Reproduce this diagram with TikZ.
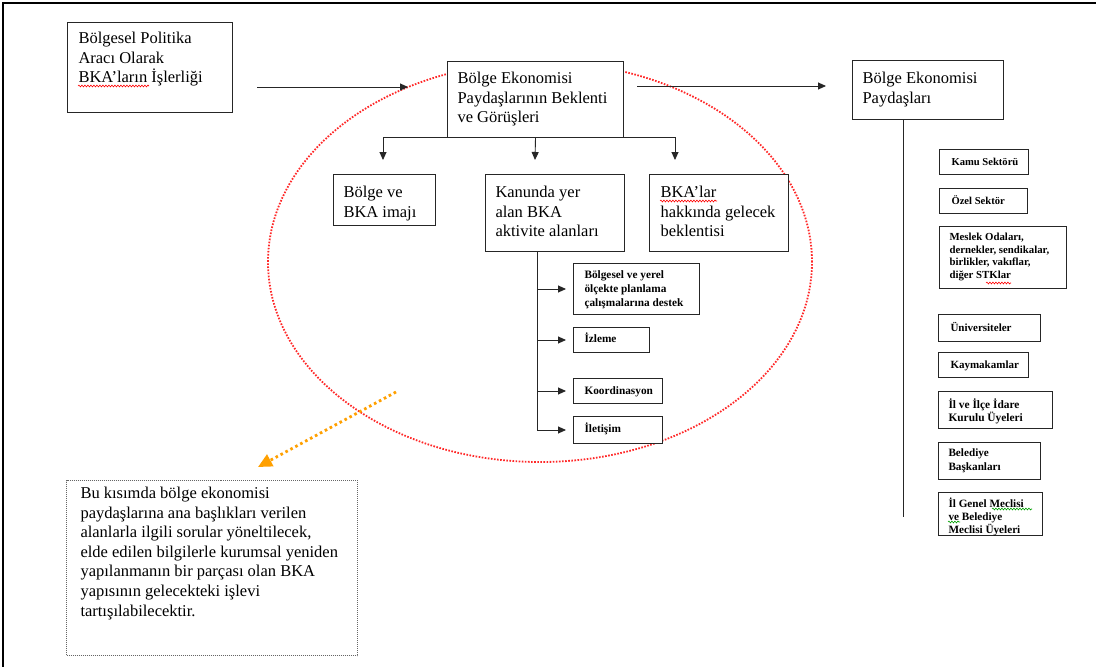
\documentclass[tikz,border=0pt]{standalone}
\usepackage{fontspec}
\setmainfont{Liberation Serif}
\usetikzlibrary{arrows.meta,decorations.pathmorphing}
% #1 width, #2 height, #3 left pad, #4 first baseline, #5 font, #6 text
\newcommand\bxt[6]{\parbox[t][#2pt][t]{#1pt}{#5\raggedright\leftskip=#3pt\relax\rule{0pt}{#4pt}#6}}
\newcommand\bigtxt{\fontsize{16.5}{19.6}\selectfont}
\newcommand\smallb[2]{\fontsize{#1}{#2}\selectfont\bfseries}
\begin{document}
\begin{tikzpicture}[x=1pt,y=-1pt,
  box/.style={draw=black!85, line width=1pt, fill=white, inner sep=0pt, anchor=north west},
  arr/.style={-{Triangle[width=7pt,length=8pt]}, line width=0.9pt, black!85},
  lin/.style={line width=0.9pt, black!85},
  reddots/.style={draw={rgb,255:red,255;green,40;blue,40}, line width=1.8pt, dash pattern=on 1.6pt off 1.5pt},
  orangedots/.style={draw={rgb,255:red,255;green,160;blue,0}, line width=2.8pt, dash pattern=on 2.6pt off 3pt,
     -{Triangle[width=13pt,length=14pt,fill={rgb,255:red,255;green,160;blue,0}]}},
  notebox/.style={draw=black!60, line width=1pt, dash pattern=on 1pt off 1pt, fill=white, inner sep=0pt, anchor=north west},
  wavy/.style={decorate, decoration={snake, amplitude=0.9pt, segment length=3pt}, line width=0.6pt},
  redwavy/.style={wavy, draw=red},
  greenwavy/.style={wavy, draw={rgb,255:red,0;green,160;blue,0}}]
\useasboundingbox (0,0) rectangle (1096,667);
\fill[white] (0,0) rectangle (1096,667);
% frame
\draw[line width=2pt] (3,667) -- (3,3) -- (1096,3);

% red dotted ellipse
\draw[reddots] (540,262) ellipse [x radius=272pt, y radius=200pt];

% main boxes
\node[box] (b1) at (67,22) {\bxt{165}{90}{11}{21}{\bigtxt}{Bölgesel Politika\\Aracı Olarak\\BKA’ların İşlerliği}};
\node[box] (b2) at (447,61) {\bxt{176}{76}{10}{22}{\bigtxt}{Bölge Ekonomisi\\Paydaşlarının Beklenti\\ve Görüşleri}};
\node[box] (b3) at (852,60) {\bxt{151}{59}{10}{23}{\bigtxt}{Bölge Ekonomisi\\Paydaşları}};

\node[box] (b4) at (333,174) {\bxt{102}{51}{10}{23}{\bigtxt}{Bölge ve\\BKA imajı}};
\node[box] (b5) at (485,174) {\bxt{139}{77}{10}{23}{\bigtxt}{Kanunda yer\\alan BKA\\aktivite alanları}};
\node[box] (b6) at (649,174) {\bxt{139}{77}{11}{23}{\bigtxt}{BKA’lar\\hakkında gelecek\\beklentisi}};

% activity boxes
\node[box] (s1) at (573,263) {\bxt{126}{51}{11}{15}{\smallb{11.3}{14}}{Bölgesel ve yerel\\ölçekte planlama\\çalışmalarına destek}};
\node[box] (s2) at (573,327) {\bxt{76}{25}{11}{15}{\smallb{11.3}{14}}{İzleme}};
\node[box] (s3) at (573,378) {\bxt{89}{25}{11}{16}{\smallb{11.3}{14}}{Koordinasyon}};
\node[box] (s4) at (573,416) {\bxt{89}{27}{11}{16}{\smallb{11.3}{14}}{İletişim}};

% stakeholder boxes
\node[box] (r1) at (939,149) {\bxt{89}{25}{12}{16}{\smallb{10.6}{13}}{Kamu Sektörü}};
\node[box] (r2) at (939,188) {\bxt{88}{25}{12}{16}{\smallb{10.6}{13}}{Özel Sektör}};
\node[box] (r3) at (939,226) {\bxt{127}{62}{10}{14}{\smallb{10.8}{12.6}}{Meslek Odaları,\\dernekler, sendikalar,\\birlikler, vakıflar,\\diğer STKlar}};
\node[box] (r4) at (938,314) {\bxt{102}{27}{12}{17}{\smallb{11}{13}}{Üniversiteler}};
\node[box] (r5) at (938,352) {\bxt{90}{25}{12}{16}{\smallb{11}{13}}{Kaymakamlar}};
\node[box] (r6) at (938,391) {\bxt{114}{37}{10}{17}{\smallb{11.4}{12.6}}{İl ve İlçe İdare\\Kurulu Üyeleri}};
\node[box] (r7) at (938,442) {\bxt{102}{37}{10}{14}{\smallb{11.2}{14}}{Belediye\\Başkanları}};
\node[box] (r8) at (938,492) {\bxt{104}{43}{10}{15}{\smallb{11.2}{13}}{İl Genel Meclisi\\ve Belediye\\Meclisi Üyeleri}};

% note box
\node[notebox] (note) at (66,480) {\bxt{291}{175}{14}{18}{\bigtxt}{Bu kısımda bölge ekonomisi\\paydaşlarına ana başlıkları verilen\\alanlarla ilgili sorular yöneltilecek,\\elde edilen bilgilerle kurumsal yeniden\\yapılanmanın bir parçası olan BKA\\yapısının gelecekteki işlevi\\tartışılabilecektir.}};

% spell-check underlines
\draw[redwavy] (78,86) -- (149,86);
\draw[redwavy] (660,201) -- (717,201);
\draw[redwavy] (986,283) -- (1011,283);
\draw[greenwavy] (992,509) -- (1032,509);
\draw[greenwavy] (948,522) -- (960,522);

% horizontal arrows
\coordinate (a1s) at (257,87);
\coordinate (a1e) at (408,87);
\coordinate (a2s) at (637,86);
\coordinate (a2e) at (826,86);
\draw[arr] (a1s) -- (a1e);
\draw[arr] (a2s) -- (a2e);

% tree below b2
\coordinate (t1) at (383,137);
\coordinate (t3) at (675,137);
\coordinate (e1) at (383,160);
\coordinate (e2) at (535,160);
\coordinate (e3) at (675,160);
\draw[lin] (t1) -- (t3);
\draw[arr] (t1) -- (e1);
\draw[arr] (b2.south) -- (e2);
\draw[arr] (t3) -- (e3);

% activity branches
\coordinate (v0) at (537,251);
\coordinate (v4) at (537,429.5);
\draw[lin] (v0) -- (v4);
\foreach \s in {s1,s2,s3,s4}
  \draw[arr, shorten >=7pt] (v0 |- \s.west) -- (\s.west);

% stakeholder spine
\coordinate (p0) at (903,119);
\coordinate (p1) at (903,517);
\draw[lin] (p0) -- (p1);

% orange dotted arrow
\coordinate (o1) at (396,392);
\coordinate (o2) at (258,467);
\draw[orangedots] (o1) -- (o2);
\end{tikzpicture}
\end{document}
